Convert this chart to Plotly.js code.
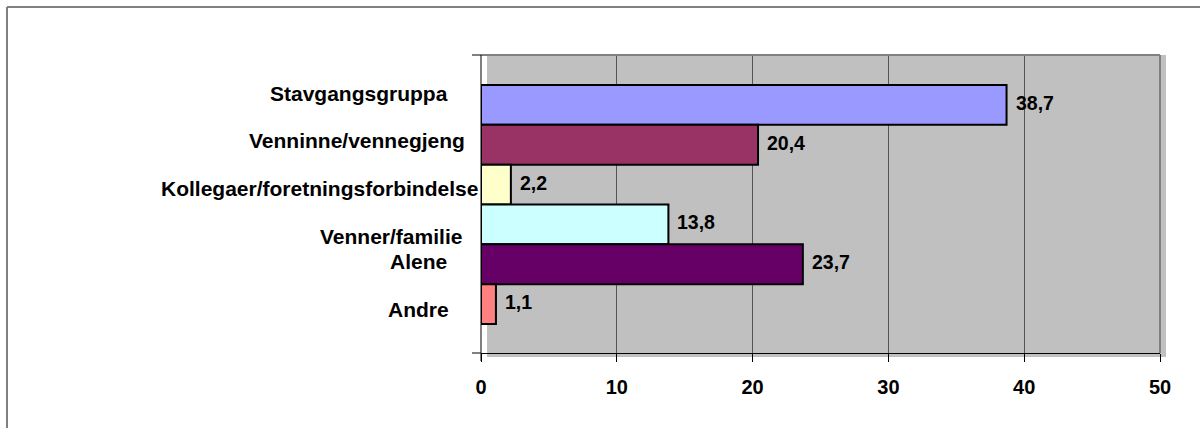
<!DOCTYPE html>
<html>
<head>
<meta charset="utf-8">
<script src="https://cdn.plot.ly/plotly-3.0.1.min.js"></script>
<style>html,body{margin:0;padding:0;background:#fff;}#chart{width:1200px;height:428px;}</style>
</head>
<body>
<div id="chart"></div>
<script>
// ---- data ----
const categories = ['Stavgangsgruppa', 'Venninne/vennegjeng', 'Kollegaer/foretningsforbindelse', 'Venner/familie', 'Alene', 'Andre'];
const values = [38.7, 20.4, 2.2, 13.8, 23.7, 1.1];
const xTickVals = [0, 10, 20, 30, 40, 50];

// ---- style ----
const barColors = ['#9999FF', '#993366', '#FFFFCC', '#CCFFFF', '#660066', '#FF8080'];
// label anchor positions in pixels (right edge, vertical centre)
const labelPx = [[450, 93], [467, 140], [480, 188], [464, 236], [449, 261], [451, 309]];

const W = 1200, H = 428;
const PL = 481, PR = 1160, PT = 55, PB = 353;
const px = x => (x - PL) / (PR - PL);
const py = y => (PB - y) / (PB - PT);
const FONT = '"Liberation Sans", Arial, sans-serif';

const trace = {
  type: 'bar',
  orientation: 'h',
  x: values,
  y: categories,
  width: 1,
  marker: { color: barColors, line: { color: '#000', width: 2 } },
  hoverinfo: 'none'
};

const annotations = [];
categories.forEach((c, i) => {
  annotations.push({
    xref: 'paper', yref: 'paper',
    x: px(labelPx[i][0]), y: py(labelPx[i][1]),
    xanchor: 'right', yanchor: 'middle',
    text: c, showarrow: false,
    font: { family: FONT, size: 21, weight: 'bold', color: '#000' }
  });
  annotations.push({
    xref: 'x', yref: 'y',
    x: values[i], y: c,
    xanchor: 'left', yanchor: 'middle',
    xshift: 7, yshift: 2,
    text: values[i].toFixed(1).replace('.', ','), showarrow: false,
    font: { family: FONT, size: 19.5, weight: 'bold', color: '#000' }
  });
});

const line = (x0, y0, x1, y1, color, width, layer) => ({
  type: 'line', xref: 'paper', yref: 'paper',
  x0: px(x0), y0: py(y0), x1: px(x1), y1: py(y1),
  line: { color: color, width: width }, layer: layer || 'above'
});

const shapes = [
  { type: 'rect', xref: 'paper', yref: 'paper', x0: px(487), x1: px(1166), y0: py(357), y1: py(55),
    fillcolor: '#C0C0C0', line: { width: 0 }, layer: 'below' },
  line(481, 55, 1160, 55, '#808080', 2),
  line(1160, 55, 1160, 353, '#808080', 2),
  line(481, 55, 481, 361, '#000', 1),
  line(472, 55, 481, 55, '#000', 1),
  line(472, 353, 481, 353, '#000', 1),
  line(7, 7, 1200, 7, '#808080', 2),
  line(7, 7, 7, 428, '#808080', 2)
];

const layout = {
  width: W, height: H, autosize: false,
  margin: { l: PL, r: W - PR, t: PT, b: H - PB, pad: 0 },
  paper_bgcolor: '#fff', plot_bgcolor: 'rgba(0,0,0,0)',
  showlegend: false,
  font: { family: FONT, size: 20, color: '#000' },
  xaxis: {
    range: [0, 50], tickmode: 'array', tickvals: xTickVals,
    ticks: 'outside', ticklen: 8, tickcolor: '#000', tickwidth: 1,
    ticklabelstandoff: 8,
    showline: true, linecolor: '#000', linewidth: 1,
    showgrid: true, gridcolor: '#555', gridwidth: 1, zeroline: false,
    tickfont: { family: FONT, size: 20, weight: 'bold', color: '#000' },
    fixedrange: true
  },
  yaxis: {
    type: 'category', categoryorder: 'array', categoryarray: categories,
    range: [6.225, -1.25],
    showticklabels: false, ticks: '', showgrid: false, zeroline: false, showline: false,
    fixedrange: true
  },
  bargap: 0,
  annotations: annotations,
  shapes: shapes
};

Plotly.newPlot('chart', [trace], layout, { staticPlot: true, displayModeBar: false });
</script>
</body>
</html>
